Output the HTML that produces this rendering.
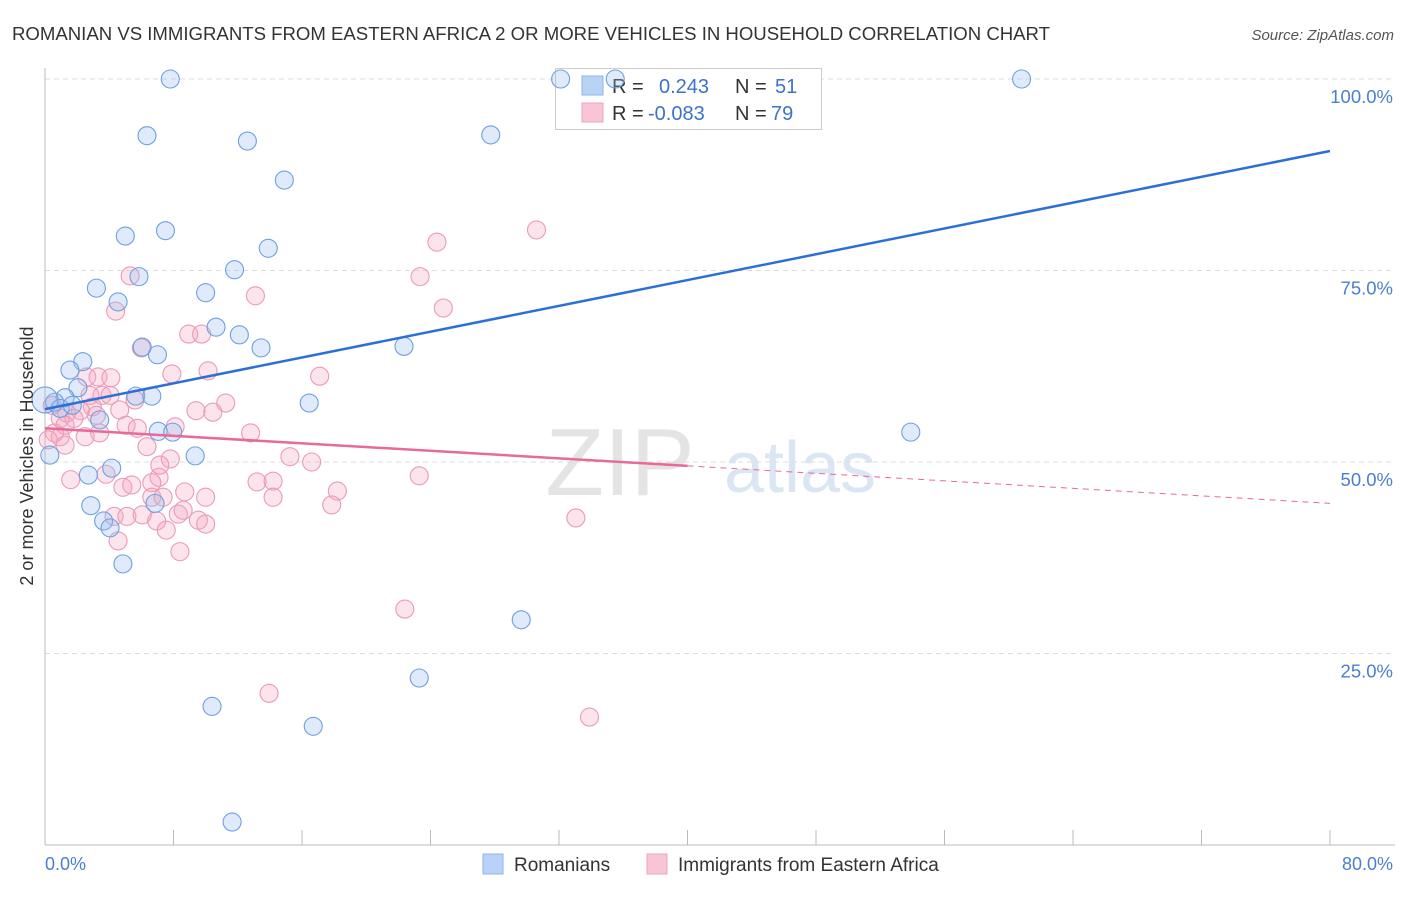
<!DOCTYPE html>
<html><head><meta charset="utf-8"><style>
body{margin:0;background:#fff;font-family:"Liberation Sans",sans-serif}
svg text{font-family:"Liberation Sans",sans-serif}
</style></head><body>
<svg id="chart" width="1406" height="892">
<text x="12" y="40" font-size="18.6" fill="#333" textLength="1038">ROMANIAN VS IMMIGRANTS FROM EASTERN AFRICA 2 OR MORE VEHICLES IN HOUSEHOLD CORRELATION CHART</text>
<text x="1394" y="40" font-size="15" fill="#555" text-anchor="end" font-style="italic">Source: ZipAtlas.com</text>
<text x="620" y="495" font-size="96" fill="#e4e4e4" font-family="Liberation Serif" text-anchor="middle">ZIP</text>
<text x="800" y="492" font-size="72" fill="#dbe6f4" text-anchor="middle">atlas</text>
<g id="grid"></g>
<g>
<rect x="555.5" y="68.5" width="266" height="61" fill="#fff" stroke="#ccc"/>
<rect x="582" y="76" width="21" height="19" fill="#b8d3f5" stroke="#8fb4e6"/>
<rect x="582" y="103" width="21" height="19" fill="#f9c5d6" stroke="#eea5bd"/>
<text x="612" y="93" font-size="20" fill="#333">R = </text><text x="659" y="93" font-size="20" fill="#3d72cc">0.243</text>
<text x="735" y="93" font-size="20" fill="#333">N = </text><text x="775" y="93" font-size="20" fill="#3d72cc">51</text>
<text x="612" y="120" font-size="20" fill="#333">R = </text><text x="648" y="120" font-size="20" fill="#3d72cc">-0.083</text>
<text x="735" y="120" font-size="20" fill="#333">N = </text><text x="771" y="120" font-size="20" fill="#3d72cc">79</text>
</g>
<g id="pts"></g><g id="trend"></g>
<text transform="translate(33,456) rotate(-90)" font-size="18" fill="#333" text-anchor="middle">2 or more Vehicles in Household</text>
<text x="45" y="870" font-size="18" fill="#4a7fd0">0.0%</text>
<text x="1393" y="870" font-size="18" fill="#4a7fd0" text-anchor="end">80.0%</text>
<g>
<rect x="483" y="854" width="20" height="20" fill="#b8d3f5" stroke="#8fb4e6"/>
<text x="514" y="871" font-size="19" fill="#333">Romanians</text>
<rect x="647" y="854" width="20" height="20" fill="#f9c5d6" stroke="#eea5bd"/>
<text x="678" y="871" font-size="19" fill="#333">Immigrants from Eastern Africa</text>
</g>
</svg>
<script>
const yTicks=[25,50,75,100];
const yTickLabels=["25.0%","50.0%","75.0%","100.0%"];
const xTicks=[0,8,16,24,32,40,48,56,64,72,80];
const blueX=[7.8,6.35,12.6,14.9,5.0,7.5,13.9,11.8,5.85,3.2,10.0,4.55,10.65,12.1,6.05,13.45,7.0,2.35,1.55,2.05,5.65,6.65,16.45,1.25,0.6,3.4,7.05,7.95,0.3,9.35,4.15,2.7,2.85,6.85,3.65,4.05,4.85,10.4,16.7,11.65,22.35,23.3,29.65,27.75,32.1,35.5,60.8,53.9,0,0.95,1.7];
const blueY=[100,92.6,91.9,86.8,79.5,80.2,77.9,75.1,74.2,72.7,72.1,70.9,67.6,66.6,65.0,64.9,64.0,63.1,62.0,59.7,58.6,58.6,57.7,58.4,57.8,55.5,54.0,53.9,50.9,50.8,49.2,48.3,44.3,44.6,42.3,41.4,36.7,18.1,15.5,3.0,65.1,21.8,29.4,92.7,100,100,100,53.9,58.1,57.0,57.4];
const pinkX=[30.6,24.4,23.35,24.8,5.3,13.1,4.4,6.0,8.95,9.75,10.15,7.9,2.6,3.3,4.1,17.1,11.25,9.4,10.45,3.55,2.95,2.2,1.35,0.95,1.8,5.05,5.75,8.1,12.8,0.6,0.95,2.5,1.25,6.35,15.25,16.6,7.8,23.3,1.6,3.8,7.1,13.2,14.2,6.65,4.85,5.4,8.7,6.65,7.35,14.2,18.2,17.85,10.0,4.3,5.1,6.05,6.95,8.3,8.6,9.55,10.0,7.55,4.55,8.4,33.05,22.4,13.95,33.9,0.2,1.25,3.2,4.05,2.8,5.6,4.65,0.45,7.15,3.4];
const pinkY=[80.3,78.7,74.2,70.1,74.3,71.7,69.7,64.9,66.7,66.7,61.9,61.5,61.1,61.1,61.0,61.2,57.7,56.7,56.5,58.7,57.2,56.7,56.4,55.7,55.7,54.8,54.4,54.6,53.8,53.8,53.3,53.3,52.2,52.0,50.7,50.0,50.4,48.2,47.7,48.4,48.0,47.4,47.5,47.3,46.7,47.0,46.1,45.4,45.4,45.4,46.2,44.4,45.4,42.9,42.9,43.1,42.3,43.2,43.7,42.4,41.9,41.1,39.7,38.3,42.7,30.8,19.8,16.7,52.9,54.8,56.1,58.7,58.7,58.1,56.8,57.4,49.6,53.8];
const blueTrend=[56.9,90.6];
const pinkTrend=[54.4,44.6];
const sx=v=>45+v/80*1285, sy=v=>845-v/100*766;
const NS="http://www.w3.org/2000/svg";
function mk(tag,attrs,parent){const e=document.createElementNS(NS,tag);for(const k in attrs)e.setAttribute(k,attrs[k]);parent.appendChild(e);return e;}
const grid=document.getElementById('grid');
yTicks.forEach((t,i)=>{
 const l=mk('line',{x1:45,x2:1395,y1:sy(t),y2:sy(t),stroke:'#ddd','stroke-dasharray':'5,4'},grid);
 
 
 const tx=mk('text',{x:1393,y:sy(t)+24,'font-size':18.5,fill:'#4a7fd0','text-anchor':'end'},grid);
 tx.textContent=yTickLabels[i];
 
 
});
const ax=mk('line',{x1:45,x2:45,y1:68,y2:845,stroke:'#bbb'},grid);


const bx=mk('line',{x1:45,x2:1395,y1:845,y2:845,stroke:'#bbb'},grid);


xTicks.forEach(t=>{
 const l=mk('line',{x1:sx(t),x2:sx(t),y1:830,y2:845,stroke:'#bbb'},grid);
 
 
});
const pts=document.getElementById('pts');
pinkX.forEach((x,i)=>{
 const c=mk('circle',{cx:sx(x),cy:sy(pinkY[i]),r:9,fill:'rgba(245,165,192,0.3)',stroke:'#eb9ab5','stroke-width':1.1},pts);
 
 
});
blueX.forEach((x,i)=>{
 const c=mk('circle',{cx:sx(x),cy:sy(blueY[i]),r:(i==48?13:9),fill:'rgba(150,190,240,0.3)',stroke:'#6f9fdf','stroke-width':1.1},pts);
 
 
});
const tr=document.getElementById('trend');
const bl=mk('line',{x1:sx(0),y1:sy(blueTrend[0]),x2:sx(80),y2:sy(blueTrend[1]),stroke:'#2c6fd6','stroke-width':2.5},tr);


const pm=(pinkTrend[0]+pinkTrend[1])/2;
const pl=mk('line',{x1:sx(0),y1:sy(pinkTrend[0]),x2:sx(40),y2:sy(pm),stroke:'#e8699a','stroke-width':2.5},tr);


const pd=mk('line',{x1:sx(40),y1:sy(pm),x2:sx(80),y2:sy(pinkTrend[1]),stroke:'#e8699a','stroke-width':1,'stroke-dasharray':'6,5'},tr);


</script>
</body></html>
